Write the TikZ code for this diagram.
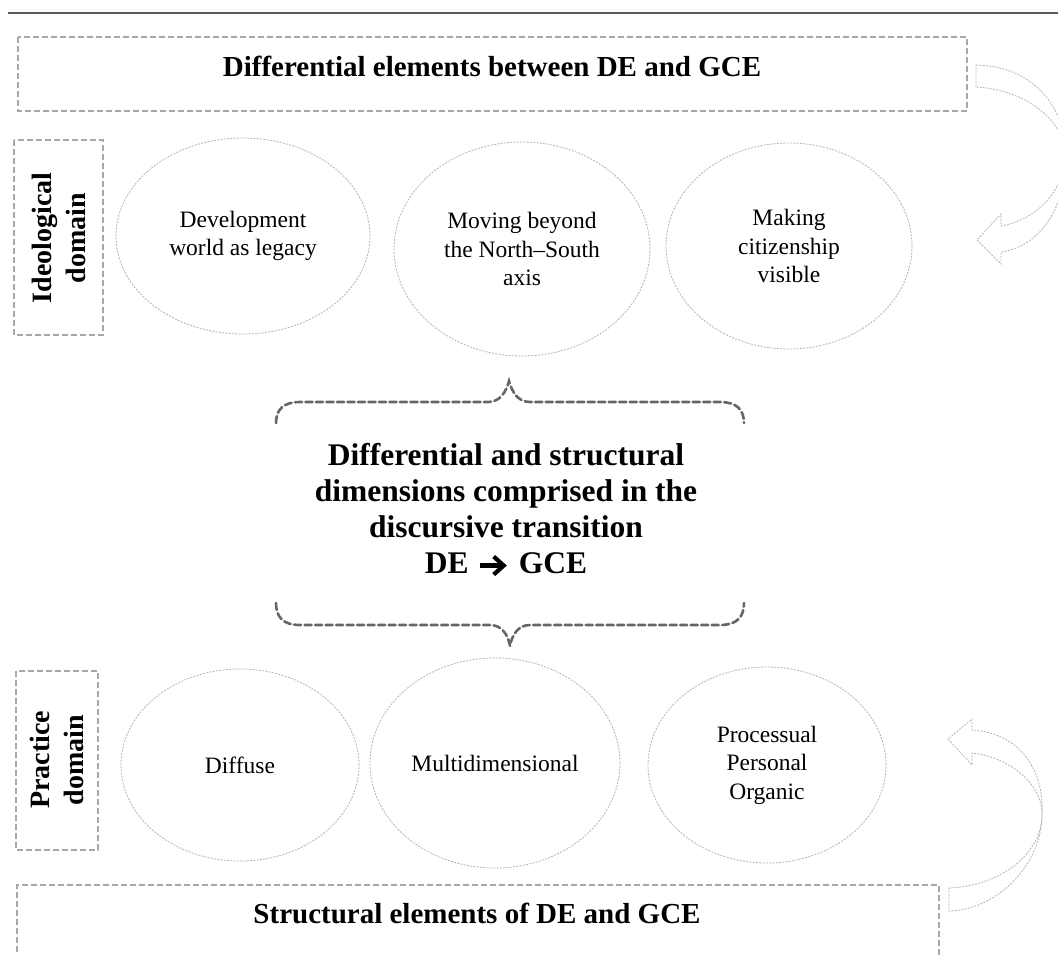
\documentclass[tikz,border=0pt]{standalone}
\usepackage{fontspec}
\setmainfont{Liberation Serif}
\usetikzlibrary{shapes.geometric}
\definecolor{boxgray}{HTML}{A8A8A8}
\definecolor{ellgray}{HTML}{B4B4B4}
\definecolor{bracegray}{HTML}{666666}
\definecolor{rulegray}{HTML}{5A5A5A}
\tikzset{
  x=1pt,y=-1pt,
  dashbox/.style={draw=boxgray,line width=1.6pt,dash pattern=on 6pt off 3pt},
  oval/.style={ellipse,draw=ellgray,line width=0.8pt,dash pattern=on 2pt off 1.3pt,
    inner sep=0pt,align=center,font=\fontsize{23.5}{28.5}\selectfont},
  heading/.style={font=\bfseries\fontsize{29}{34}\selectfont},
  domaintext/.style={rotate=90,align=center,font=\bfseries\fontsize{28}{34}\selectfont},
  bracestyle/.style={draw=bracegray,line width=2.6pt,dash pattern=on 7pt off 3.5pt},
  bentarrow/.style={draw=ellgray,line width=0.8pt,dash pattern=on 2pt off 1.3pt,line join=miter}
}
\newcommand{\boldarrow}{\hspace{1pt}\tikz[baseline={(0pt,-8pt)},x=1pt,y=1pt]{\draw[line width=4.2pt] (0,0) -- (24,0);
  \draw[line width=4.2pt,line join=miter] (14,9) -- (24,0) -- (14,-9);}\hspace{13pt}}
\begin{document}
\begin{tikzpicture}
\useasboundingbox (0,0) rectangle (1058,954);
\fill[white] (0,0) rectangle (1058,954);
\begin{scope}
\clip (0,0) rectangle (1058,954);
% top rule
\draw[draw=rulegray,line width=2.2pt] (8,13) -- (1058,13);
% top box
\draw[dashbox] (18,37) rectangle (967,111);
\node[heading] (toph) at (492,66) {Differential elements between DE and GCE};
% ideological domain
\draw[dashbox] (14,140) rectangle (103,335);
\node[domaintext] (ideo) at (59,238) {Ideological\\domain};
% ellipses row 1
\node[oval,minimum width=254pt,minimum height=196pt] (e1) at (243,236) {Development\\world as legacy};
\node[oval,minimum width=256pt,minimum height=214pt] (e2) at (522,249) {Moving beyond\\the North--South\\axis};
\node[oval,minimum width=246pt,minimum height=206pt] (e3) at (789,246) {Making\\citizenship\\visible};
% top brace
\draw[bracestyle,line cap=round] (276,423) .. controls (276,410) and (283,402) .. (300,402)
  -- (488,402) .. controls (500,402) and (506,392) .. (509,381)
  .. controls (512,392) and (518,402) .. (530,402) -- (720,402)
  .. controls (737,402) and (744,410) .. (744,423);
% center text
\node[align=center,font=\bfseries\fontsize{31.5}{36}\selectfont] (center) at (506,510)
  {Differential and structural\\dimensions comprised in the\\discursive transition\\DE \boldarrow GCE};
% bottom brace
\draw[bracestyle,line cap=round] (276,603) .. controls (276,617) and (283,625) .. (300,625)
  -- (490,625) .. controls (502,625) and (508,635) .. (510,646)
  .. controls (512,635) and (518,625) .. (530,625) -- (720,625)
  .. controls (737,625) and (744,617) .. (744,603);
% practice domain
\draw[dashbox] (16,671) rectangle (98,850);
\node[domaintext] (prac) at (57,760) {Practice\\domain};
% ellipses row 2
\node[oval,minimum width=238pt,minimum height=192pt] (e4) at (240,765) {Diffuse};
\node[oval,minimum width=250pt,minimum height=210pt] (e5) at (495,763) {Multidimensional};
\node[oval,minimum width=238pt,minimum height=196pt] (e6) at (767,765) {Processual\\Personal\\Organic};
% bottom box
\draw[dashbox] (17,970) -- (17,885) -- (939,885) -- (939,970);
\node[heading] (both) at (477,913) {Structural elements of DE and GCE};
% curved arrow top right
\draw[bentarrow] (976,65) .. controls (1035,66) and (1068,110) .. (1066,160)
  .. controls (1064,210) and (1040,246) .. (1001,252) -- (1001,264) -- (977,240) -- (1001,214) -- (1001,226)
  .. controls (1035,220) and (1060,195) .. (1066,160)
  .. controls (1068,125) and (1030,90) .. (976,87) -- cycle;
% curved arrow bottom right
\draw[bentarrow] (949,888) .. controls (1000,886) and (1040,855) .. (1042,817)
  .. controls (1044,785) and (1010,757) .. (972,753) -- (972,765) -- (948,739) -- (972,719) -- (972,730)
  .. controls (1020,733) and (1045,770) .. (1042,817)
  .. controls (1040,868) and (995,910) .. (949,911) -- cycle;
\end{scope}
\end{tikzpicture}
\end{document}
